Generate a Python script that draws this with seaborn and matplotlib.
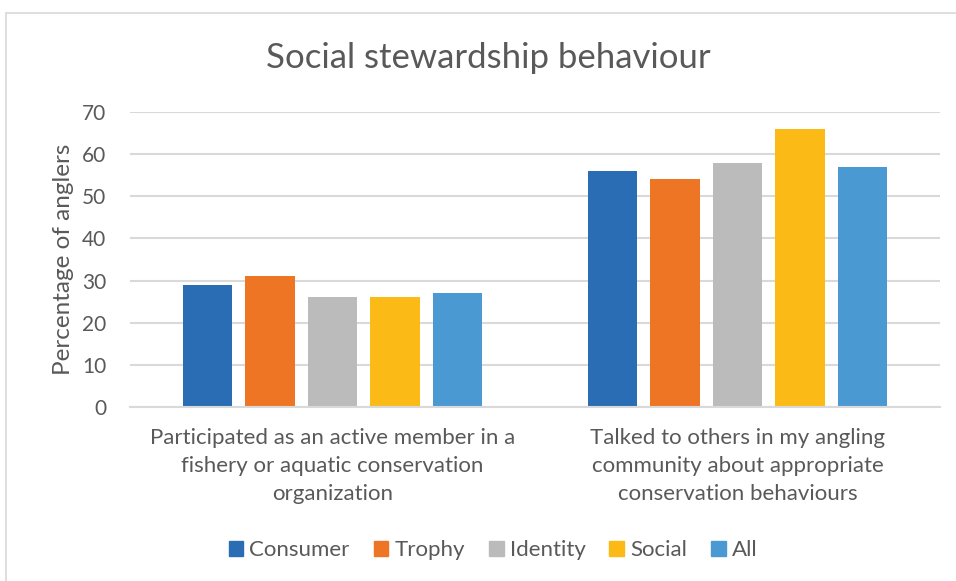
import matplotlib
matplotlib.use("Agg")
import matplotlib.pyplot as plt
from matplotlib.lines import Line2D
import seaborn as sns
import pandas as pd

# Survey results: percentage of anglers reporting each behaviour, by angler type
behaviours = [
    "Participated as an active member in a\nfishery or aquatic conservation\norganization",
    "Talked to others in my angling\ncommunity about appropriate\nconservation behaviours",
]
groups = ["Consumer", "Trophy", "Identity", "Social", "All"]
consumer = [29, 56]
trophy = [31, 54]
identity = [26, 58]
social = [26, 66]
all_anglers = [27, 57]
y_ticks = [0, 10, 20, 30, 40, 50, 60, 70]

palette = ["#2A6DB5", "#EE7524", "#BBBBBB", "#FBBA16", "#4A99D3"]

series = dict(zip(groups, [consumer, trophy, identity, social, all_anglers]))
rows = []
for g in groups:
    for b, v in zip(behaviours, series[g]):
        rows.append({"Behaviour": b, "Group": g, "Percent": v})
df = pd.DataFrame(rows)

sns.set_theme(style="white")
plt.rcParams["font.family"] = ["Lato", "DejaVu Sans"]
text_grey = "#595959"
grid_grey = "#D9D9D9"

fig = plt.figure(figsize=(9.56, 5.81), dpi=100)
ax = fig.add_axes([130 / 956, 1 - 407 / 581, 810 / 956, 295 / 581])

sns.barplot(
    data=df, x="Behaviour", y="Percent", hue="Group",
    hue_order=groups, order=behaviours, palette=palette,
    width=0.772, gap=0.21, linewidth=0, saturation=1,
    ax=ax, legend=False,
)

ax.set_ylim(0, 70)
ax.set_xlim(-0.5, 1.5)
ax.set_yticks(y_ticks)
ax.set_yticklabels([str(t) for t in y_ticks])
ax.yaxis.grid(True, color=grid_grey, linewidth=1.5)
ax.set_axisbelow(True)
for side in ["top", "right", "left"]:
    ax.spines[side].set_visible(False)
ax.spines["bottom"].set_color(grid_grey)
ax.spines["bottom"].set_linewidth(1.5)
ax.tick_params(axis="y", length=0, pad=17, labelsize=15, labelcolor=text_grey)
ax.tick_params(axis="x", length=0, pad=15, labelsize=16, labelcolor=text_grey)
for lbl in ax.get_xticklabels():
    lbl.set_linespacing(1.5)
    lbl.set_horizontalalignment("center")

ax.set_xlabel("")
ax.set_ylabel("Percentage of anglers", fontsize=17.5, color=text_grey, labelpad=6)

fig.text(488 / 956, 1 - 58 / 581, "Social stewardship behaviour",
         ha="center", va="center", fontsize=25, color=text_grey)

handles = [plt.Rectangle((0, 0), 1, 1, color=c) for c in palette]
leg = fig.legend(handles, groups, loc="center", bbox_to_anchor=(493 / 956, 1 - 550 / 581),
                 ncol=5, frameon=False, fontsize=16, handlelength=0.66,
                 handleheight=0.66, handletextpad=0.27, columnspacing=1.08)
for t in leg.get_texts():
    t.set_color(text_grey)

# Outer chart frame (top and left edges)
fig.add_artist(Line2D([6 / 956, 1], [1 - 13 / 581, 1 - 13 / 581],
                      transform=fig.transFigure, color=grid_grey, linewidth=1.2))
fig.add_artist(Line2D([6 / 956, 6 / 956], [0, 1 - 13 / 581],
                      transform=fig.transFigure, color=grid_grey, linewidth=1.2))

fig.savefig("out.png", dpi=100, facecolor="white")
